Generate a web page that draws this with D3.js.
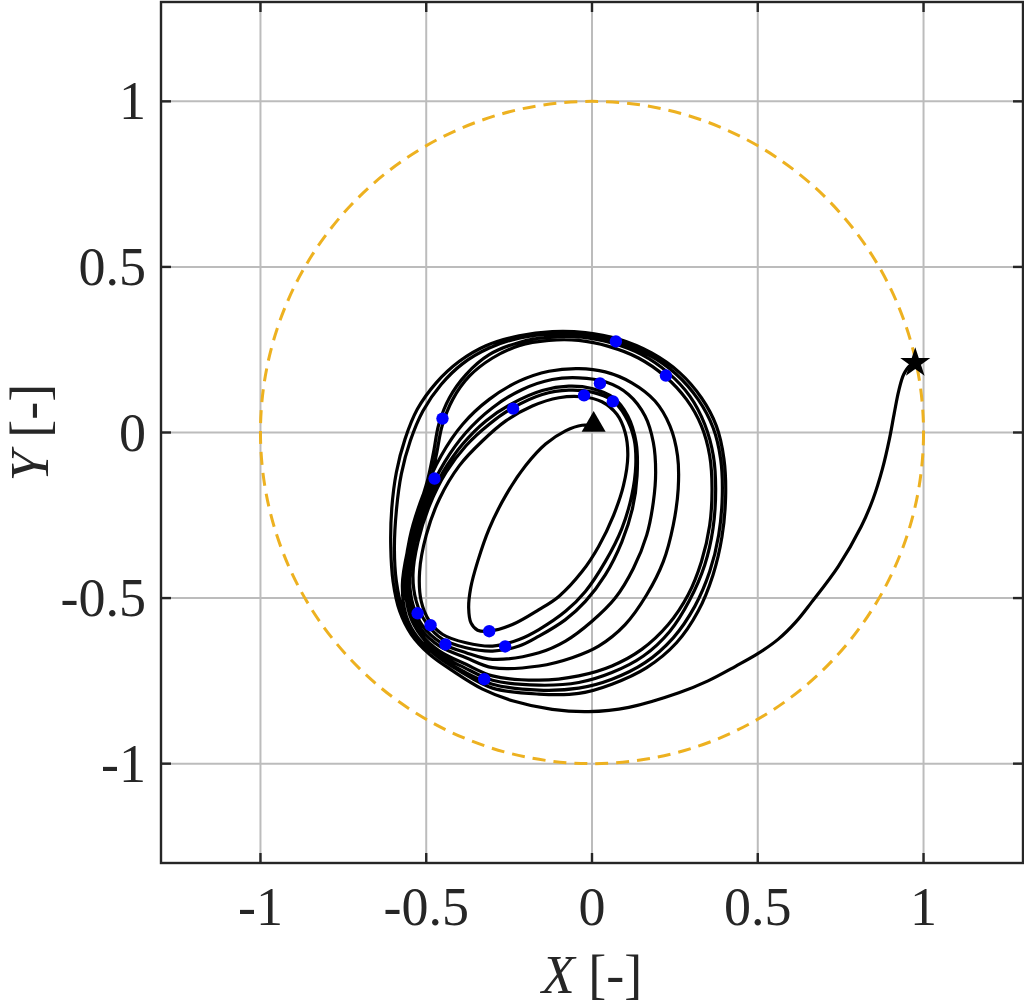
<!DOCTYPE html>
<html>
<head>
<meta charset="utf-8">
<script src="https://cdn.jsdelivr.net/npm/d3@7"></script>
<style>
  html, body { margin: 0; padding: 0; background: #fff; }
  svg { display: block; }
  text { font-family: "Liberation Serif", "Times New Roman", serif; fill: #262626; }
</style>
</head>
<body>
<svg id="chart" width="1024" height="1005"></svg>
<script>
// ---------------- data ----------------
const xTicks = [-1, -0.5, 0, 0.5, 1];
const yTicks = [-1, -0.5, 0, 0.5, 1];
const xTickLabels = ["-1", "-0.5", "0", "0.5", "1"];
const yTickLabels = ["-1", "-0.5", "0", "0.5", "1"];
const xDomain = [-1.3, 1.3];
const yDomain = [-1.3, 1.3];
const circleRadius = 1;           // dashed reference circle
const startPoint = [0.005, 0.02]; // triangle
const endPoint = [0.975, 0.21];   // star

// trajectory pieces, in travel order
const thinArc = [
  [0.005, 0.02], [-0.03, 0.022], [-0.08, 0.005], [-0.14, -0.035], [-0.20, -0.10],
  [-0.26, -0.19], [-0.31, -0.29], [-0.345, -0.39], [-0.366, -0.47], [-0.372, -0.53],
  [-0.365, -0.575], [-0.345, -0.597], [-0.31, -0.60]
];
const ring1 = [
  [-0.24, -0.58], [-0.16, -0.535], [-0.10, -0.495], [-0.03, -0.42], [0.02, -0.344],
  [0.065, -0.25], [0.095, -0.16], [0.108, -0.07], [0.10, 0.0], [0.075, 0.055],
  [0.03, 0.093], [-0.03, 0.108], [-0.10, 0.105], [-0.18, 0.08], [-0.26, 0.035],
  [-0.33, -0.025], [-0.40, -0.10], [-0.46, -0.20], [-0.50, -0.31], [-0.52, -0.42],
  [-0.515, -0.51], [-0.49, -0.57], [-0.45, -0.61], [-0.38, -0.635]
];
const ring2 = [
  [-0.30, -0.645], [-0.22, -0.625], [-0.16, -0.595], [-0.08, -0.54], [-0.02, -0.48],
  [0.04, -0.39], [0.09, -0.29], [0.12, -0.19], [0.132, -0.10], [0.127, -0.02],
  [0.10, 0.05], [0.06, 0.098], [0.0, 0.122], [-0.07, 0.128], [-0.15, 0.115],
  [-0.238, 0.075], [-0.31, 0.025], [-0.38, -0.04], [-0.44, -0.12], [-0.49, -0.22],
  [-0.525, -0.33], [-0.54, -0.43], [-0.53, -0.51], [-0.50, -0.575], [-0.45, -0.625],
  [-0.38, -0.65]
];
const ring3 = [
  [-0.30, -0.66], [-0.22, -0.645], [-0.16, -0.615], [-0.08, -0.565], [-0.02, -0.51],
  [0.04, -0.43], [0.09, -0.33], [0.122, -0.23], [0.136, -0.13], [0.133, -0.03],
  [0.108, 0.05], [0.065, 0.105], [0.0, 0.133], [-0.07, 0.14], [-0.15, 0.127],
  [-0.24, 0.088], [-0.32, 0.035], [-0.39, -0.035], [-0.45, -0.12], [-0.50, -0.22],
  [-0.535, -0.33], [-0.55, -0.44], [-0.54, -0.52], [-0.51, -0.585], [-0.455, -0.635],
  [-0.38, -0.665]
];
const ring4 = [
  [-0.30, -0.685], [-0.16, -0.665], [-0.08, -0.63], [0.0, -0.57], [0.07, -0.50],
  [0.125, -0.41], [0.165, -0.31], [0.185, -0.21], [0.192, -0.12], [0.185, -0.03],
  [0.16, 0.05], [0.11, 0.115], [0.04, 0.153], [-0.04, 0.165], [-0.12, 0.16],
  [-0.21, 0.13], [-0.30, 0.075], [-0.38, 0.0], [-0.445, -0.09], [-0.50, -0.20],
  [-0.54, -0.32], [-0.555, -0.44], [-0.545, -0.53], [-0.515, -0.595], [-0.46, -0.645],
  [-0.38, -0.68]
];
const ring5 = [
  [-0.30, -0.71], [-0.16, -0.705], [-0.06, -0.68], [0.02, -0.645], [0.10, -0.58],
  [0.165, -0.49], [0.215, -0.39], [0.245, -0.28], [0.26, -0.17], [0.258, -0.07],
  [0.235, 0.02], [0.19, 0.095], [0.12, 0.15], [0.04, 0.183], [-0.04, 0.193],
  [-0.13, 0.185], [-0.22, 0.155], [-0.31, 0.10], [-0.39, 0.025], [-0.455, -0.07],
  [-0.51, -0.19], [-0.55, -0.32], [-0.565, -0.45], [-0.55, -0.545], [-0.515, -0.61],
  [-0.46, -0.66], [-0.38, -0.70]
];
const ring6 = [
  [-0.30, -0.735], [-0.16, -0.748], [-0.04, -0.735], [0.06, -0.705], [0.15, -0.655],
  [0.23, -0.58], [0.29, -0.49], [0.33, -0.39], [0.355, -0.28], [0.362, -0.17],
  [0.355, -0.07], [0.33, 0.02], [0.285, 0.10], [0.22, 0.17], [0.14, 0.225],
  [0.05, 0.26], [-0.04, 0.278], [-0.13, 0.278], [-0.22, 0.262], [-0.30, 0.225],
  [-0.37, 0.17], [-0.42, 0.10], [-0.452, 0.02], [-0.468, -0.06], [-0.485, -0.14],
  [-0.515, -0.24], [-0.545, -0.35], [-0.562, -0.46], [-0.55, -0.55], [-0.515, -0.615],
  [-0.46, -0.67], [-0.385, -0.71]
];
const ring7 = [
  [-0.30, -0.748], [-0.16, -0.763], [-0.04, -0.755], [0.06, -0.725], [0.155, -0.675],
  [0.235, -0.60], [0.295, -0.505], [0.34, -0.40], [0.365, -0.29], [0.373, -0.17],
  [0.366, -0.07], [0.34, 0.025], [0.295, 0.11], [0.23, 0.18], [0.15, 0.235],
  [0.06, 0.27], [-0.03, 0.288], [-0.13, 0.288], [-0.22, 0.272], [-0.31, 0.235],
  [-0.38, 0.175], [-0.43, 0.105], [-0.462, 0.025], [-0.478, -0.06], [-0.495, -0.14],
  [-0.525, -0.24], [-0.555, -0.35], [-0.572, -0.46], [-0.56, -0.555], [-0.525, -0.62],
  [-0.465, -0.675], [-0.39, -0.72]
];
const ring8 = [
  [-0.30, -0.76], [-0.16, -0.778], [-0.04, -0.772], [0.06, -0.745], [0.16, -0.695],
  [0.245, -0.62], [0.31, -0.525], [0.355, -0.42], [0.382, -0.31], [0.393, -0.19],
  [0.388, -0.08], [0.365, 0.015], [0.32, 0.10], [0.255, 0.175], [0.17, 0.235],
  [0.075, 0.275], [-0.02, 0.295], [-0.12, 0.298], [-0.22, 0.285], [-0.31, 0.255],
  [-0.39, 0.208], [-0.455, 0.145], [-0.51, 0.065], [-0.548, -0.025], [-0.575, -0.125],
  [-0.59, -0.235], [-0.596, -0.35], [-0.59, -0.45], [-0.57, -0.54], [-0.535, -0.61],
  [-0.475, -0.67], [-0.40, -0.72]
];
const ring9 = [
  [-0.30, -0.772], [-0.16, -0.79], [-0.04, -0.788], [0.06, -0.76], [0.165, -0.71],
  [0.255, -0.635], [0.32, -0.54], [0.365, -0.43], [0.392, -0.315], [0.403, -0.195],
  [0.398, -0.08], [0.375, 0.02], [0.33, 0.105], [0.265, 0.18], [0.18, 0.24],
  [0.08, 0.282], [-0.02, 0.302], [-0.12, 0.305], [-0.22, 0.292], [-0.32, 0.262],
  [-0.40, 0.215], [-0.47, 0.15], [-0.527, 0.07], [-0.564, -0.02], [-0.59, -0.12],
  [-0.604, -0.23], [-0.607, -0.345], [-0.60, -0.45], [-0.58, -0.54], [-0.545, -0.61],
  [-0.49, -0.67], [-0.42, -0.72]
];
const tail = [
  [-0.33, -0.775], [-0.24, -0.81], [-0.12, -0.836], [-0.01, -0.843], [0.111, -0.83],
  [0.262, -0.786], [0.35, -0.75], [0.433, -0.706], [0.50, -0.668], [0.562, -0.624],
  [0.615, -0.572], [0.662, -0.513], [0.743, -0.404], [0.812, -0.284], [0.848, -0.20],
  [0.876, -0.11], [0.897, -0.02], [0.912, 0.06], [0.925, 0.125], [0.94, 0.175],
  [0.96, 0.203], [0.975, 0.21]
];

// blue markers
const markerX = [0.072, 0.223, 0.024, -0.024, 0.063, -0.238, -0.451, -0.475, -0.526, -0.487, -0.442, -0.310, -0.262, -0.325];
const markerY = [0.275, 0.172, 0.148, 0.112, 0.094, 0.072, 0.042, -0.139, -0.546, -0.582, -0.640, -0.600, -0.646, -0.745];

// ---------------- drawing ----------------
const svg = d3.select("#chart");
const plot = { left: 161, right: 1023, top: 2, bottom: 863 };
const x = d3.scaleLinear().domain(xDomain).range([plot.left, plot.right]);
const y = d3.scaleLinear().domain(yDomain).range([plot.bottom, plot.top]);

const clipId = "plotclip";
svg.append("defs").append("clipPath").attr("id", clipId)
  .append("rect").attr("x", plot.left).attr("y", plot.top)
  .attr("width", plot.right - plot.left).attr("height", plot.bottom - plot.top);

// grid
const grid = svg.append("g").attr("stroke", "#bcbcbc").attr("stroke-width", 2);
grid.selectAll("line.gx").data(xTicks).join("line")
  .attr("x1", d => x(d)).attr("x2", d => x(d))
  .attr("y1", plot.top).attr("y2", plot.bottom);
grid.selectAll("line.gy").data(yTicks).join("line")
  .attr("y1", d => y(d)).attr("y2", d => y(d))
  .attr("x1", plot.left).attr("x2", plot.right);

const g = svg.append("g").attr("clip-path", `url(#${clipId})`);

// dashed circle
g.append("ellipse")
  .attr("cx", x(0)).attr("cy", y(0))
  .attr("rx", x(circleRadius) - x(0)).attr("ry", y(0) - y(circleRadius))
  .attr("fill", "none").attr("stroke", "#EDB120").attr("stroke-width", 3)
  .attr("stroke-dasharray", "13,8");

// trajectory
const traj = [].concat(thinArc, ring1, ring2, ring3, ring4, ring5, ring6, ring7, ring8, ring9, tail);
const line = d3.line().x(d => x(d[0])).y(d => y(d[1])).curve(d3.curveCatmullRom.alpha(0.5));
g.append("path").datum(traj)
  .attr("d", line).attr("fill", "none").attr("stroke", "#000")
  .attr("stroke-width", 3.2).attr("stroke-linejoin", "round");

// blue markers
g.selectAll("circle.mk").data(d3.range(markerX.length)).join("circle")
  .attr("cx", i => x(markerX[i])).attr("cy", i => y(markerY[i]))
  .attr("r", 6.2).attr("fill", "#0000ff");

// start triangle and end star
g.append("path")
  .attr("d", d3.symbol().type(d3.symbolTriangle).size(250)())
  .attr("transform", `translate(${x(startPoint[0])},${y(startPoint[1]) - 1})`)
  .attr("fill", "#000");
g.append("path")
  .attr("d", d3.symbol().type(d3.symbolStar).size(280)())
  .attr("transform", `translate(${x(endPoint[0])},${y(endPoint[1])})`)
  .attr("fill", "#000");

// axes box and ticks
const axisColor = "#262626";
svg.append("rect")
  .attr("x", plot.left).attr("y", plot.top)
  .attr("width", plot.right - plot.left).attr("height", plot.bottom - plot.top)
  .attr("fill", "none").attr("stroke", axisColor).attr("stroke-width", 2.4);

const tickLen = 10;
const ticks = svg.append("g").attr("stroke", axisColor).attr("stroke-width", 2.4);
xTicks.forEach(t => {
  ticks.append("line").attr("x1", x(t)).attr("x2", x(t)).attr("y1", plot.bottom).attr("y2", plot.bottom - tickLen);
  ticks.append("line").attr("x1", x(t)).attr("x2", x(t)).attr("y1", plot.top).attr("y2", plot.top + tickLen);
});
yTicks.forEach(t => {
  ticks.append("line").attr("y1", y(t)).attr("y2", y(t)).attr("x1", plot.left).attr("x2", plot.left + tickLen);
  ticks.append("line").attr("y1", y(t)).attr("y2", y(t)).attr("x1", plot.right).attr("x2", plot.right - tickLen);
});

const fontSize = 54;
svg.append("g").selectAll("text").data(xTicks).join("text")
  .attr("x", d => x(d)).attr("y", 925)
  .attr("text-anchor", "middle").attr("font-size", fontSize)
  .text((d, i) => xTickLabels[i]);
svg.append("g").selectAll("text").data(yTicks).join("text")
  .attr("x", 146).attr("y", d => y(d) + 18)
  .attr("text-anchor", "end").attr("font-size", fontSize)
  .text((d, i) => yTickLabels[i]);

// axis labels
const xl = svg.append("text").attr("x", x(0)).attr("y", 993)
  .attr("text-anchor", "middle").attr("font-size", fontSize);
xl.append("tspan").attr("font-style", "italic").text("X");
xl.append("tspan").text(" [-]");

const yl = svg.append("text")
  .attr("transform", `translate(48,${y(0)}) rotate(-90)`)
  .attr("text-anchor", "middle").attr("font-size", fontSize);
yl.append("tspan").attr("font-style", "italic").text("Y");
yl.append("tspan").text(" [-]");
</script>
</body>
</html>
